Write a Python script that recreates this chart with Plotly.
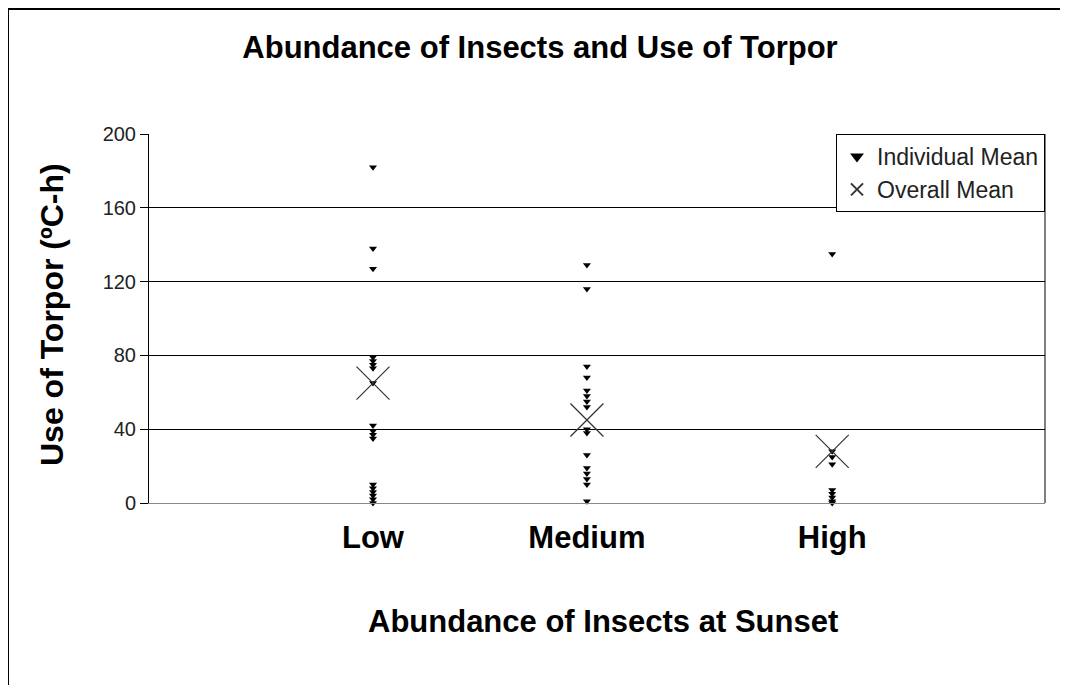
import plotly.graph_objects as go

# categories and their x positions on the (hidden) numeric axis
categories = ["Low", "Medium", "High"]
cat_x = [1.0, 1.955, 3.05]

# individual means (ºC-h)
low_vals = [182, 138, 127, 79, 77, 75, 73, 65, 42, 39, 37, 35, 10, 8, 6, 4, 2, 0]
medium_vals = [129, 116, 74, 68, 61, 58, 55, 52, 40, 38, 26, 19, 16, 13, 10, 1]
high_vals = [135, 28, 25, 21, 7, 5, 3, 1, 0]

# overall means
overall_means = [65, 45, 28]

y_ticks = [0, 40, 80, 120, 160, 200]

# page has an 8px body margin, so figure is a bit smaller than the window
W, H = 1060, 677
L, R, T, B = 141, 23, 126, 182
pw, ph = W - L - R, H - T - B

ind_x = ([cat_x[0]] * len(low_vals) + [cat_x[1]] * len(medium_vals)
         + [cat_x[2]] * len(high_vals))
ind_y = low_vals + medium_vals + high_vals

fig = go.Figure()
fig.add_trace(go.Scatter(
    x=ind_x, y=ind_y, mode="markers", name="Individual Mean",
    marker=dict(symbol="triangle-down", size=7, color="black"),
    cliponaxis=False))
fig.add_trace(go.Scatter(
    x=cat_x, y=overall_means, mode="markers", name="Overall Mean",
    marker=dict(symbol="x-thin-open", size=33, color="#333",
                line=dict(width=1.2, color="#333")),
    cliponaxis=False))

font = "Arial, Liberation Sans, sans-serif"

fig.update_layout(
    width=W, height=H,
    margin=dict(l=L, r=R, t=T, b=B),
    paper_bgcolor="white", plot_bgcolor="white",
    font=dict(family=font, color="black"),
    title=dict(text="<b>Abundance of Insects and Use of Torpor</b>",
               x=(532 - L) / pw, xref="paper", xanchor="center",
               y=1 - 39 / H, yanchor="middle",
               font=dict(size=31, color="black")),
    showlegend=True,
    legend=dict(x=1.0, y=1.0, xanchor="right", yanchor="top",
                bgcolor="white", bordercolor="black", borderwidth=1,
                font=dict(size=23, color="#222"), itemsizing="constant",
                tracegroupgap=0),
    xaxis=dict(range=[0, 4], tickvals=cat_x,
               ticktext=["<b>%s</b>" % c for c in categories],
               showgrid=False, zeroline=False, showline=True,
               linecolor="#888", linewidth=1,
               ticks="", ticklabelstandoff=7,
               tickfont=dict(size=31, color="black", family=font)),
    yaxis=dict(range=[0, 200], tickvals=y_ticks, showgrid=True,
               gridcolor="black", gridwidth=1, zeroline=False,
               showline=True, linecolor="black", linewidth=1,
               ticks="outside", ticklen=8, tickcolor="black",
               tickfont=dict(size=20, color="#222")),
    annotations=[
        dict(text="<b>Abundance of Insects at Sunset</b>", xref="paper",
             yref="paper", x=(595 - L) / pw, y=(H - B - 613) / ph,
             xanchor="center", yanchor="middle", showarrow=False,
             font=dict(size=31, color="black")),
        dict(text="<b>Use of Torpor (ºC-h)</b>", xref="paper", yref="paper",
             x=(44 - L) / pw, y=(H - B - 307) / ph, textangle=-90,
             xanchor="center", yanchor="middle", showarrow=False,
             font=dict(size=32, color="black")),
    ],
)

# right edge of plot area and outer chart frame
fig.add_shape(type="line", xref="paper", yref="paper", x0=1, x1=1, y0=0, y1=1,
              line=dict(color="black", width=1))
fig.add_shape(type="rect", xref="paper", yref="paper",
              x0=(0 - L) / pw, x1=(1056 - L) / pw,
              y0=(H - B - 700) / ph, y1=(H - B - 1) / ph,
              line=dict(color="black", width=2))

fig.write_html("out.html")
